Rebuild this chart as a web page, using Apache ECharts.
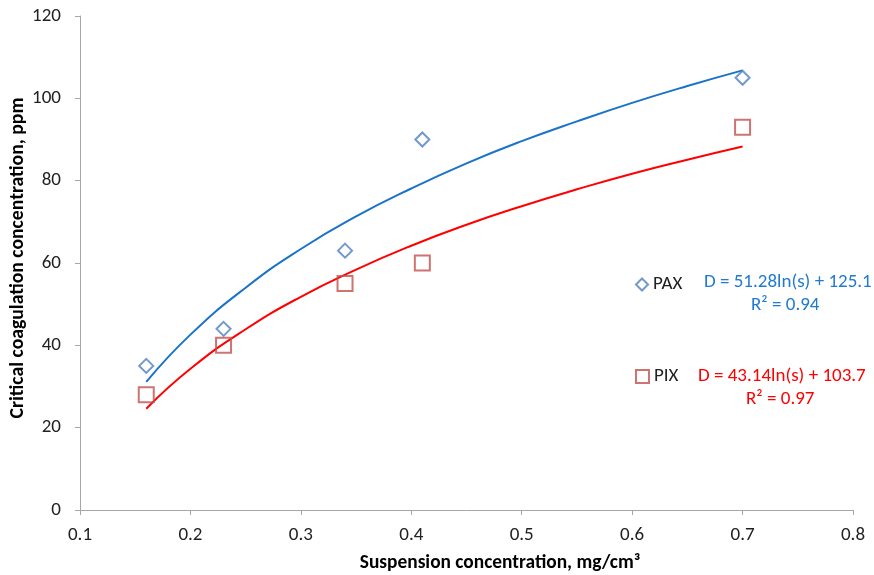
<!DOCTYPE html>
<html>
<head>
<meta charset="utf-8">
<script src="https://cdn.jsdelivr.net/npm/echarts@6/dist/echarts.min.js"></script>
<style>html,body{margin:0;padding:0;background:#fff;}#c{width:874px;height:575px;}</style>
</head>
<body>
<div id="c"></div>
<script>
// Measured points
const paxX = [0.16, 0.23, 0.34, 0.41, 0.70];
const paxY = [35, 44, 63, 90, 105];
const pixX = [0.16, 0.23, 0.34, 0.41, 0.70];
const pixY = [28, 40, 55, 60, 93];
// Trend lines
const trendX = [0.16, 0.20, 0.25, 0.30, 0.35, 0.40, 0.45, 0.50, 0.55, 0.60, 0.65, 0.70];
const paxTrendY = [31.1, 42.6, 54.0, 63.4, 71.3, 78.1, 84.2, 89.6, 94.4, 98.9, 103.0, 106.8];
const pixTrendY = [24.6, 34.3, 43.9, 51.8, 58.4, 64.2, 69.3, 73.8, 77.9, 81.7, 85.1, 88.3];
const xTitle = 'Suspension concentration, mg/cm³';
const yTitle = 'Critical coagulation concentration, ppm';
const paxEq = 'D = 51.28ln(s) + 125.1';
const paxR2 = 'R² = 0.94';
const pixEq = 'D = 43.14ln(s) + 103.7';
const pixR2 = 'R² = 0.97';

const zip = (xs, ys) => xs.map((x, i) => [x, ys[i]]);
const FONT = 'Carlito';
const chart = echarts.init(document.getElementById('c'));
chart.setOption({
  animation: false,
  textStyle: {fontFamily: FONT},
  grid: {left: 80, right: 21, top: 16, bottom: 65, containLabel: false, outerBoundsMode: 'none'},
  xAxis: {
    type: 'value', min: 0.1, max: 0.8, interval: 0.1,
    axisLine: {lineStyle: {color: '#a6a6a6', width: 1}},
    axisTick: {show: true, length: 5, lineStyle: {color: '#a6a6a6'}},
    axisLabel: {fontSize: 19, color: '#222', margin: 16, formatter: v => v.toFixed(1)},
    splitLine: {show: false}
  },
  yAxis: {
    type: 'value', min: 0, max: 120, interval: 20,
    axisLine: {show: true, lineStyle: {color: '#a6a6a6', width: 1}},
    axisTick: {show: true, length: 5, lineStyle: {color: '#a6a6a6'}},
    axisLabel: {fontSize: 19, color: '#222', margin: 19},
    splitLine: {show: false}
  },
  legend: [
    {data: ['PAX'], left: 630, top: 270, itemWidth: 12, itemHeight: 12, itemGap: 4,
     textStyle: {fontSize: 19, color: '#222', fontFamily: FONT}},
    {data: ['PIX'], left: 630, top: 362, itemWidth: 13, itemHeight: 13, itemGap: 4,
     textStyle: {fontSize: 19, color: '#222', fontFamily: FONT}}
  ],
  graphic: [
    {type: 'text', x: 500, y: 563, style: {text: xTitle, fill: '#000', fontSize: 19.4, fontWeight: 'bold', fontFamily: FONT, align: 'center', verticalAlign: 'middle'}},
    {type: 'text', x: 18, y: 258, rotation: Math.PI / 2, style: {text: yTitle, fill: '#000', fontSize: 19.7, fontWeight: 'bold', fontFamily: FONT, align: 'center', verticalAlign: 'middle'}},
    {type: 'text', x: 704, y: 282, style: {text: paxEq, fill: '#1f7ad1', fontSize: 19, fontFamily: FONT, verticalAlign: 'middle'}},
    {type: 'text', x: 751, y: 305, style: {text: paxR2, fill: '#1f7ad1', fontSize: 19, fontFamily: FONT, verticalAlign: 'middle'}},
    {type: 'text', x: 698, y: 376, style: {text: pixEq, fill: '#ff0000', fontSize: 19, fontFamily: FONT, verticalAlign: 'middle'}},
    {type: 'text', x: 746, y: 399, style: {text: pixR2, fill: '#ff0000', fontSize: 19, fontFamily: FONT, verticalAlign: 'middle'}}
  ],
  series: [
    {name: 'PAX trend', type: 'line', smooth: true, showSymbol: false, silent: true,
     data: zip(trendX, paxTrendY), lineStyle: {color: '#1a73c9', width: 2}, z: 2},
    {name: 'PIX trend', type: 'line', smooth: true, showSymbol: false, silent: true,
     data: zip(trendX, pixTrendY), lineStyle: {color: '#ff0000', width: 2}, z: 2},
    {name: 'PAX', type: 'scatter', symbol: 'diamond', symbolSize: 14,
     data: zip(paxX, paxY), itemStyle: {color: 'rgba(255,255,255,0)', borderColor: '#4f7fc0', borderWidth: 2}, z: 3},
    {name: 'PIX', type: 'scatter', symbol: 'rect', symbolSize: 15,
     data: zip(pixX, pixY), itemStyle: {color: 'rgba(255,255,255,0)', borderColor: '#c0504d', borderWidth: 2}, z: 3}
  ]
});
</script>
</body>
</html>
